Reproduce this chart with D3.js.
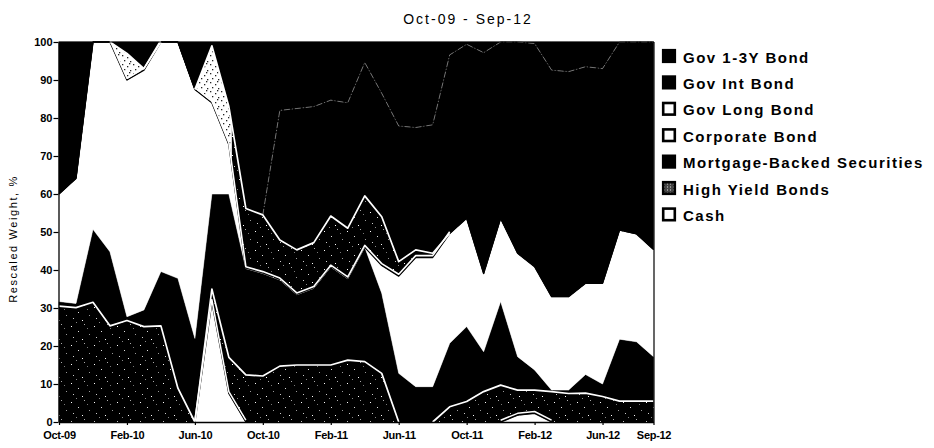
<!DOCTYPE html>
<html><head><meta charset="utf-8">
<script src="https://cdn.jsdelivr.net/npm/d3@7"></script>
<style>body{margin:0;background:#fff}svg{display:block}text{font-family:"Liberation Sans",Arial,sans-serif}</style>
</head><body>
<svg id="chart" width="934" height="448"></svg>
<script>
// ---- data ----
const months = ["Oct-09","Nov-09","Dec-09","Jan-10","Feb-10","Mar-10","Apr-10","May-10","Jun-10","Jul-10","Aug-10","Sep-10","Oct-10","Nov-10","Dec-10","Jan-11","Feb-11","Mar-11","Apr-11","May-11","Jun-11","Jul-11","Aug-11","Sep-11","Oct-11","Nov-11","Dec-11","Jan-12","Feb-12","Mar-12","Apr-12","May-12","Jun-12","Jul-12","Aug-12","Sep-12"];
const cash      = [0,0,0,0,0,0,0,0,0,31.7,7.5,0,0,0,0,0,0,0,0,0,0,0,0,0,0,0,0,1.8,2.3,0,0,0,0,0,0,0];
const highYield = [30.5,30.1,31.5,25.3,26.7,25.1,25.3,8.9,0,3.3,9.5,12.4,12.1,14.7,15,15,15,16.3,15.9,12.8,0,0,0,4,5.4,8,9.7,6.6,6.1,8,7.5,7.6,6.7,5.5,5.5,5.5];
const mbs       = [1.2,1.1,19.2,19.5,1.0,4.4,14.3,28.9,22,25,43,28,27,22.7,18.5,20.2,25.8,21.4,30.1,21.1,12.8,9.3,9.3,16.7,19.7,10.5,22,8.8,5.3,0.4,0.9,4.9,3.3,16.3,15.6,11.7];
const corporate = [28.3,32.9,49.3,55.2,62.3,63.1,60.4,62.2,65.5,24,13,0,0,0,0,0,0,0,0,7.3,25.6,34,34,28.9,28.5,20.6,21.9,27.2,27.2,24.6,24.6,24,26.5,28.7,28.4,28.2];
const govLong   = [0,0,0,0,7,0.4,0,0,0,15,10,15.8,15.4,10.5,11.8,12,13.4,13.3,13.5,12.8,3.8,2,1.1,0,0,0,0,0,0,0,0,0,0,0,0,0];
const govInt    = [0,0,0,0,0,0,0,0,0,0,0,0,0,34.1,37.2,35.8,30.5,33,35.1,32.5,35.7,32.2,33.8,47,45.8,58.1,46.4,55.6,58.7,59.6,59.2,57,56.5,49.5,50.5,54.6];
const gov13     = [40,35.9,0,0,3,7,0,0,12.5,1,17,43.8,45.5,18,17.5,17,15.3,16,5.4,13.5,22.1,22.5,21.8,3.4,0.6,2.8,0,0,0.4,7.4,7.8,6.5,7,0,0,0];
const legendNames = ["Gov 1-3Y Bond","Gov Int Bond","Gov Long Bond","Corporate Bond","Mortgage-Backed Securities","High Yield Bonds","Cash"];
const tickMonths = ["Oct-09","Feb-10","Jun-10","Oct-10","Feb-11","Jun-11","Oct-11","Feb-12","Jun-12","Sep-12"];
const yTicks = [0,10,20,30,40,50,60,70,80,90,100];
const titleText = "Oct-09 - Sep-12";
const yLabel = "Rescaled Weight, %";

// ---- build ----
const keys = ["cash","highYield","mbs","corporate","govLong","govInt","gov13"];
const byKey = {cash, highYield, mbs, corporate, govLong, govInt, gov13};
const table = months.map((m,i)=>{const r={month:m}; keys.forEach(k=>r[k]=byKey[k][i]); return r;});
const series = d3.stack().keys(keys)(table);
const sByKey = {}; series.forEach(s=>sByKey[s.key]=s);

const svg = d3.select("#chart");
const x = d3.scalePoint().domain(months).range([59, 653.5]);
const y = d3.scaleLinear().domain([0,100]).range([422, 42]);

// patterns
const defs = svg.append("defs");
const pat = defs.append("pattern").attr("id","speckle").attr("width",23).attr("height",19).attr("patternUnits","userSpaceOnUse");
pat.append("rect").attr("width",23).attr("height",19).attr("fill","#000");
const specks = [[2,3,"#fff"],[15,1,"#aaa"],[9,8,"#ddd"],[20,11,"#999"],[4,14,"#ccc"],[13,16,"#fff"],[18,5,"#777"],[7,18,"#888"]];
specks.forEach(p=>pat.append("rect").attr("x",p[0]).attr("y",p[1]).attr("width",1).attr("height",1).attr("fill",p[2]));
const patL = defs.append("pattern").attr("id","lightspeck").attr("width",11).attr("height",9).attr("patternUnits","userSpaceOnUse");
patL.append("rect").attr("width",11).attr("height",9).attr("fill","#fff");
[[1,1],[6,3],[3,6],[9,7],[8,0]].forEach(p=>patL.append("rect").attr("x",p[0]).attr("y",p[1]).attr("width",1.3).attr("height",1.3).attr("fill","#222"));
const pat2 = defs.append("pattern").attr("id","legspeck").attr("width",3).attr("height",3).attr("patternUnits","userSpaceOnUse");
pat2.append("rect").attr("width",3).attr("height",3).attr("fill","#444");
pat2.append("rect").attr("x",1).attr("y",1).attr("width",1).attr("height",1).attr("fill","#ddd");
// the Gov Long layer prints light before Aug-10 in the scan
defs.append("clipPath").attr("id","earlyClip").append("rect")
  .attr("x",0).attr("y",0).attr("width",x("Aug-10")+3).attr("height",448);

const fills = {cash:"#fff", highYield:"url(#speckle)", mbs:"#000", corporate:"#fff", govLong:"url(#speckle)", govInt:"#000", gov13:"#000"};
const area = d3.area().x(d=>x(d.data.month)).y0(d=>y(d[0])).y1(d=>y(d[1]));
svg.append("g").selectAll("path").data(series).join("path")
  .attr("d",area).attr("fill",s=>fills[s.key]).attr("stroke",s=>fills[s.key]).attr("stroke-width",0.5);
svg.append("path").attr("d",area(sByKey.govLong)).attr("fill","url(#lightspeck)").attr("clip-path","url(#earlyClip)");

// boundary lines
const near = arr => (d,i) => arr[i]>0 || (i>0 && arr[i-1]>0) || (i<arr.length-1 && arr[i+1]>0);
const lineDefs = [
  {key:"corporate", edge:1, color:"#000", w:1.4, dy:0, def:corporate},
  {key:"cash", edge:1, color:"#000", w:1.4, dy:0, def:cash},
  {key:"highYield", edge:1, color:"#fff", w:1.7, dy:0, def:highYield},
  {key:"highYield", edge:0, color:"#fff", w:1.5, dy:-1.8, def:cash},
  {key:"govLong", edge:0, color:"#fff", w:1.6, dy:-1.8, def:govLong},
  {key:"govLong", edge:1, color:"#fff", w:1.7, dy:0, def:govLong},
  {key:"govInt", edge:1, color:"#fff", w:0.6, dy:0, def:govInt, op:0.7, dash:"6 2 1 2"}
];
const lg = svg.append("g");
lineDefs.forEach(L=>{
  const gen = d3.line().defined(near(L.def)).x(d=>x(d.data.month)).y(d=>y(d[L.edge]));
  lg.append("path").attr("d",gen(sByKey[L.key])).attr("fill","none")
    .attr("stroke",L.color).attr("stroke-width",L.w).attr("stroke-opacity",L.op||1)
    .attr("stroke-dasharray",L.dash||null)
    .attr("stroke-linejoin","round").attr("transform",`translate(0,${L.dy})`);
});

// frame
svg.append("line").attr("x1",58.5).attr("x2",654).attr("y1",42).attr("y2",42).attr("stroke","#000").attr("stroke-width",1.2);
svg.append("line").attr("x1",654).attr("x2",654).attr("y1",42).attr("y2",422).attr("stroke","#000").attr("stroke-width",1.2);

// axes
const yAxis = svg.append("g").attr("transform","translate(58.5,0)")
  .call(d3.axisLeft(y).tickValues(yTicks).tickSize(5).tickSizeOuter(0).tickPadding(1));
const xAxis = svg.append("g").attr("transform","translate(0,422)")
  .call(d3.axisBottom(x).tickValues(tickMonths).tickSize(3).tickSizeOuter(0).tickPadding(6));
[yAxis,xAxis].forEach(a=>{
  a.select(".domain").attr("stroke","#000").attr("stroke-width",1.3);
  a.selectAll(".tick line").attr("stroke","#000").attr("stroke-width",1.2);
  a.selectAll("text").attr("font-family",'"Liberation Sans",Arial,sans-serif').attr("font-size",11).attr("font-weight","bold").attr("fill","#000");
});
xAxis.selectAll("text").attr("letter-spacing",-0.3);

// title
svg.append("text").attr("x",468).attr("y",24).attr("text-anchor","middle").attr("font-size",14)
  .attr("letter-spacing",2).attr("fill","#000").text(titleText);
// y label
svg.append("text").attr("transform","translate(17,239) rotate(-90)").attr("text-anchor","middle")
  .attr("font-size",11).attr("letter-spacing",1.6).attr("fill","#000").text(yLabel);

// legend
const legStyle = [
  {fill:"#000", stroke:"#000"},
  {fill:"#000", stroke:"#000"},
  {fill:"#fff", stroke:"#000"},
  {fill:"#fff", stroke:"#000"},
  {fill:"#000", stroke:"#000"},
  {fill:"url(#legspeck)", stroke:"#000"},
  {fill:"#fff", stroke:"#000"}
];
const leg = svg.append("g").selectAll("g").data(legendNames).join("g")
  .attr("transform",(d,i)=>`translate(0,${62.5+i*26.4})`);
leg.append("rect").attr("x",663.2).attr("y",-12.3).attr("width",11.6).attr("height",11.6)
  .attr("fill",(d,i)=>legStyle[i].fill).attr("stroke",(d,i)=>legStyle[i].stroke).attr("stroke-width",2.6);
leg.append("text").attr("x",683).attr("y",0).attr("font-size",15).attr("font-weight","bold")
  .attr("letter-spacing",1.5).attr("fill","#000").text(d=>d);
</script>
</body></html>
